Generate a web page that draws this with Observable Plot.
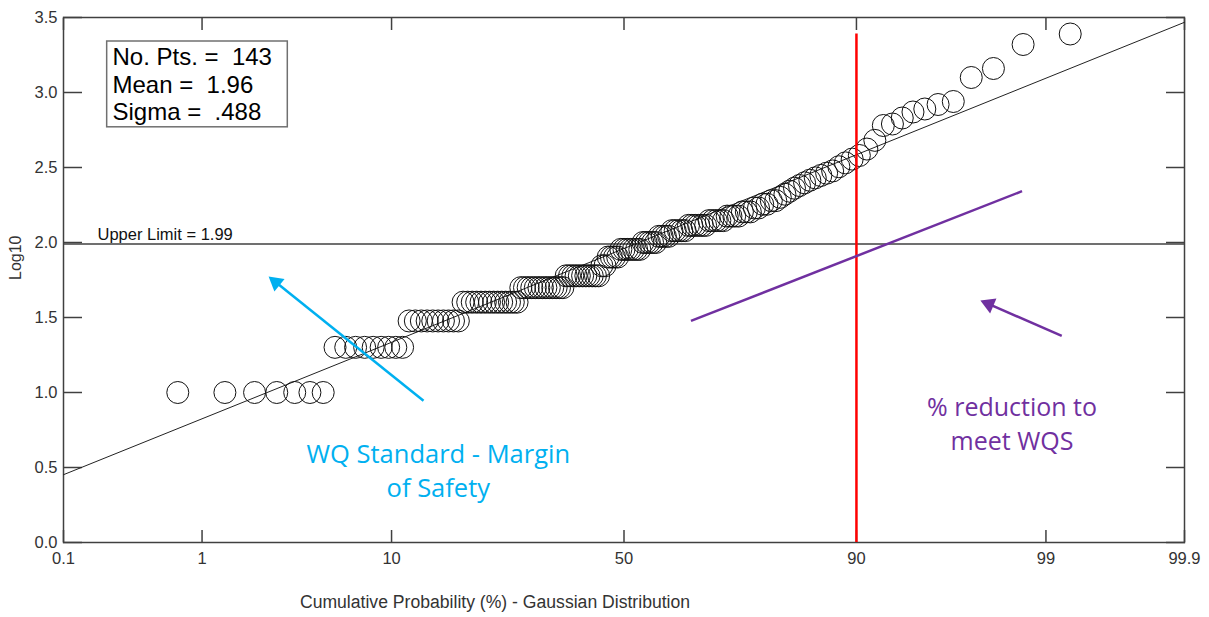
<!DOCTYPE html>
<html><head><meta charset="utf-8">
<script src="https://cdn.jsdelivr.net/npm/d3@7"></script>
<script src="https://cdn.jsdelivr.net/npm/@observablehq/plot@0.6"></script>
<style>
html,body{margin:0;padding:0;background:#fff;}
#chart svg text{white-space:pre;}
</style></head><body><div id="chart"></div>
<script>
// ---- data (log10 values, sorted) ----
const log10Values = [
  1.0, 1.0, 1.0, 1.0, 1.0, 1.0, 1.0,
  1.301, 1.301, 1.301, 1.301, 1.301, 1.301, 1.301, 1.301, 1.301,
  1.477, 1.477, 1.477, 1.477, 1.477, 1.477, 1.477, 1.477, 1.477, 1.477,
  1.602, 1.602, 1.602, 1.602, 1.602, 1.602, 1.602, 1.602, 1.602, 1.602, 1.602, 1.602, 1.602, 1.602,
  1.699, 1.699, 1.699, 1.699, 1.699, 1.699, 1.699, 1.699, 1.699, 1.699, 1.699, 1.699, 1.699,
  1.778, 1.778, 1.778, 1.778, 1.778, 1.778, 1.778, 1.778, 1.778, 1.778, 1.778,
  1.845, 1.845,
  1.903, 1.903, 1.903, 1.903,
  1.954, 1.954, 1.954, 1.954, 1.954, 1.954, 1.954,
  2.0, 2.0, 2.0, 2.0, 2.0,
  2.041, 2.041, 2.041, 2.041,
  2.079, 2.079, 2.079, 2.079, 2.079,
  2.114, 2.114, 2.114, 2.114, 2.114, 2.114,
  2.146, 2.146, 2.146, 2.146, 2.146,
  2.176, 2.176, 2.176, 2.176,
  2.204, 2.204, 2.204,
  2.23, 2.23,
  2.255, 2.255,
  2.279, 2.279,
  2.301, 2.322, 2.342, 2.362, 2.38, 2.398, 2.415, 2.431, 2.447, 2.462, 2.477,
  2.505, 2.531, 2.556, 2.58, 2.623, 2.681,
  2.78, 2.79, 2.83, 2.87, 2.89, 2.92, 2.94, 3.10, 3.16, 3.32, 3.39
];
const nPts = 143, mean = 1.96, sigma = 0.488;
const upperLimit = [1.99];
const upperLimitLabel = "Upper Limit = 1.99";
const statsLines = "No. Pts. =  143\nMean =  1.96\nSigma =  .488";

const xTickPct = [0.1, 1, 10, 50, 90, 99, 99.9];
const xTickLabels = ["0.1", "1", "10", "50", "90", "99", "99.9"];
const yTicks = [0, 0.5, 1, 1.5, 2, 2.5, 3, 3.5];
const xDomainPct = [0.1, 99.9];

// annotations (x in cumulative %, y in log10)
const redLinePct = [90];
const redLineTop = 3.39;
const statsBox = [{x1: 0.219, x2: 3.19, y1: 2.768, y2: 3.34}];
const cyanArrow = [{x1: 13.45, y1: 0.945, x2: 2.746, y2: 1.735, angle: -51}];
const purpleLine = [{x1: 64.4, y1: 1.477, x2: 98.59, y2: 2.342}];
const purpleArrow = [{x1: 99.21, y1: 1.377, x2: 97.79, y2: 1.589, angle: -67}];
const cyanText = [{x: 15.3, y: 0.49, t: "WQ Standard - Margin\nof Safety"}];
const purpleText = [{x: 98.38, y: 0.80, t: "% reduction to\nmeet WQS"}];

// inverse normal CDF (Gaussian probability axis)
function probit(p) {
  const a=[-3.969683028665376e+01,2.209460984245205e+02,-2.759285104469687e+02,1.383577518672690e+02,-3.066479806614716e+01,2.506628277459239e+00];
  const b=[-5.447609879822406e+01,1.615858368580409e+02,-1.556989798598866e+02,6.680131188771972e+01,-1.328068155288572e+01];
  const c=[-7.784894002430293e-03,-3.223964580411365e-01,-2.400758277161838e+00,-2.549732539343734e+00,4.374664141464968e+00,2.938163982698783e+00];
  const d=[7.784695709041462e-03,3.224671290700398e-01,2.445134137142996e+00,3.754408661907416e+00];
  const pl = 0.02425, ph = 1 - pl;
  if (p < pl) { const q = Math.sqrt(-2*Math.log(p)); return (((((c[0]*q+c[1])*q+c[2])*q+c[3])*q+c[4])*q+c[5])/((((d[0]*q+d[1])*q+d[2])*q+d[3])*q+1); }
  if (p > ph) { const q = Math.sqrt(-2*Math.log(1-p)); return -(((((c[0]*q+c[1])*q+c[2])*q+c[3])*q+c[4])*q+c[5])/((((d[0]*q+d[1])*q+d[2])*q+d[3])*q+1); }
  const q = p - 0.5, r = q*q;
  return (((((a[0]*r+a[1])*r+a[2])*r+a[3])*r+a[4])*r+a[5])*q/(((((b[0]*r+b[1])*r+b[2])*r+b[3])*r+b[4])*r+1);
}
const zp = pct => probit(pct / 100);

const points = log10Values.map((v, i) => ({z: probit((i + 1) / (log10Values.length + 1)), v}));
const xTickZ = xTickPct.map(zp);
const zDomain = xDomainPct.map(zp);
const fit = zDomain.map(z => ({z, v: mean + sigma * z}));
const toZ = arr => arr.map(o => ({...o, x1: zp(o.x1), x2: zp(o.x2)}));

const axisColor = "#404040";
const textColor = "#333";
const calloutFont = "'Open Sans', 'Noto Sans', sans-serif";

const chart = Plot.plot({
  width: 1209, height: 617,
  marginTop: 17, marginRight: 25, marginBottom: 75, marginLeft: 63,
  style: {fontFamily: "'Liberation Sans', Arial, sans-serif", background: "#fff", color: textColor},
  x: {domain: zDomain},
  y: {domain: [0, 3.5]},
  marks: [
    // axes
    Plot.axisX({ticks: xTickZ, anchor: "bottom", tickSize: -12, tickFormat: () => "", label: null, stroke: axisColor, strokeWidth: 1.5}),
    Plot.axisX({ticks: xTickZ, anchor: "top", tickSize: -12, tickFormat: () => "", label: null, stroke: axisColor, strokeWidth: 1.5}),
    Plot.axisX({ticks: xTickZ, anchor: "bottom", tickSize: 0, tickPadding: 10, label: null, fontSize: 16.5, fill: textColor,
      tickFormat: z => xTickLabels[xTickZ.indexOf(z)]}),
    Plot.axisY({ticks: yTicks, anchor: "left", tickSize: -19, tickFormat: () => "", label: null, stroke: axisColor, strokeWidth: 1.5}),
    Plot.axisY({ticks: yTicks, anchor: "right", tickSize: -19, tickFormat: () => "", label: null, stroke: axisColor, strokeWidth: 1.5}),
    Plot.axisY({ticks: yTicks, anchor: "left", tickSize: 0, tickPadding: 6, label: null, fontSize: 16.5, fill: textColor,
      tickFormat: d3.format(".1f")}),
    Plot.frame({stroke: axisColor, strokeWidth: 1.5}),
    Plot.text(["Log10"], {frameAnchor: "left", dx: -48, rotate: -90, fontSize: 16, fill: textColor}),
    Plot.text(["Cumulative Probability (%) - Gaussian Distribution"], {frameAnchor: "bottom", dx: -129, dy: 65, fontSize: 17.6, fill: textColor}),
    // fitted line
    Plot.line(fit, {x: "z", y: "v", stroke: "#222", strokeWidth: 1}),
    // upper limit
    Plot.ruleY(upperLimit, {stroke: axisColor, strokeWidth: 1.5}),
    Plot.text([upperLimitLabel], {frameAnchor: "left", y: upperLimit[0], dx: 34, dy: -9, textAnchor: "start", fontSize: 16.5, fill: "#111"}),
    // points
    Plot.dot(points, {x: "z", y: "v", r: 11, stroke: "#111", strokeWidth: 1, fill: "none"}),
    // 90% red line
    Plot.ruleX(redLinePct.map(zp), {y1: 0, y2: redLineTop, stroke: "#ff0000", strokeWidth: 2.5}),
    // stats box
    Plot.rect(toZ(statsBox), {x1: "x1", x2: "x2", y1: "y1", y2: "y2", fill: "white", stroke: "#707070", strokeWidth: 1.5}),
    Plot.text([statsLines], {frameAnchor: "top-left", dx: 49, dy: 28, lineAnchor: "top", textAnchor: "start", lineHeight: 1.15, fontSize: 24, fill: "#000"}),
    // annotations
    Plot.link(toZ(cyanArrow), {x1: "x1", y1: "y1", x2: "x2", y2: "y2", stroke: "#00b0f0", strokeWidth: 2.5}),
    Plot.dot(toZ(cyanArrow), {x: "x2", y: "y2", symbol: "triangle", r: 6, rotate: "angle", fill: "#00b0f0"}),
    Plot.link(toZ(purpleLine), {x1: "x1", y1: "y1", x2: "x2", y2: "y2", stroke: "#7030a0", strokeWidth: 2.5}),
    Plot.link(toZ(purpleArrow), {x1: "x1", y1: "y1", x2: "x2", y2: "y2", stroke: "#7030a0", strokeWidth: 2.5}),
    Plot.dot(toZ(purpleArrow), {x: "x2", y: "y2", symbol: "triangle", r: 6, rotate: "angle", fill: "#7030a0"}),
    Plot.text(cyanText, {x: d => zp(d.x), y: "y", text: "t", fill: "#00b0f0", fontSize: 25.5, lineHeight: 1.35, fontFamily: calloutFont}),
    Plot.text(purpleText, {x: d => zp(d.x), y: "y", text: "t", fill: "#7030a0", fontSize: 25, lineHeight: 1.35, fontFamily: calloutFont})
  ]
});
document.getElementById("chart").appendChild(chart);
</script>
</body></html>
